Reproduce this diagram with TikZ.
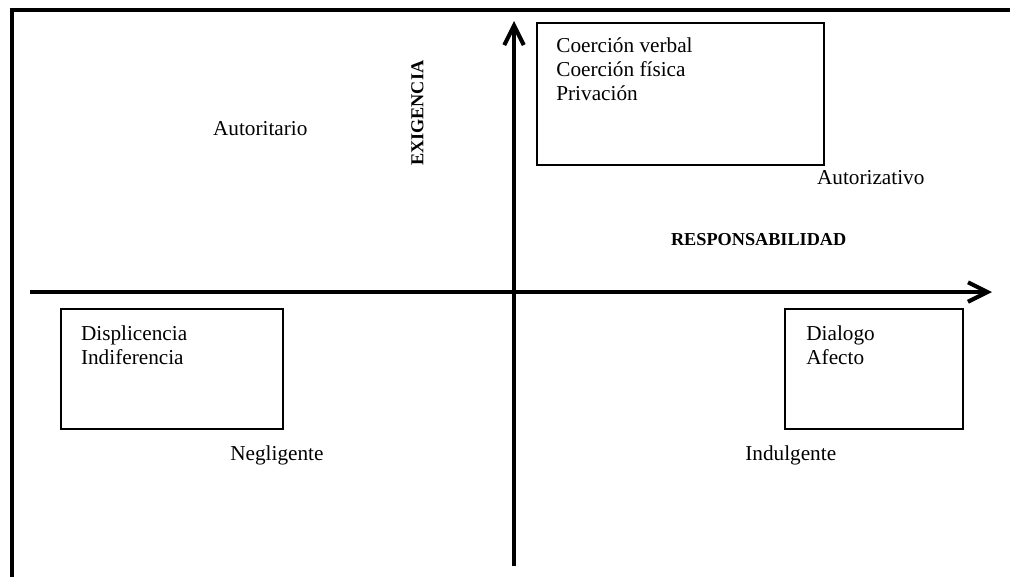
\documentclass[tikz,border=0pt]{standalone}
\usepackage{fontspec}
\setmainfont{Liberation Serif}
\usepackage{tikz}
\usetikzlibrary{arrows.meta}
\tikzstyle{axis} = [line width=2.3pt,-{Straight Barb[length=11pt,width=11pt]}]
\tikzstyle{frame} = [line width=2.8pt]
\tikzstyle{quad} = [draw, line width=1pt, inner sep=0pt, anchor=north west]
\tikzstyle{lbl} = [inner sep=0pt, anchor=base west, align=left, font=\fontsize{12}{13.56}\selectfont]
\tikzstyle{dim} = [inner sep=0pt, font=\fontsize{10.3}{12}\selectfont\bfseries]

\begin{document}
\begin{tikzpicture}[x=0.565pt,y=-0.565pt]
        \useasboundingbox (0,0) rectangle (1010,577);
        % Frame
        \coordinate (fbot) at (12,577);
        \coordinate (fcorner) at (12,10);
        \coordinate (fright) at (1010,10);
        \draw[frame] (fbot) -- (fcorner) -- (fright);
        % Axes
        \coordinate (xstart) at (30,292);
        \coordinate (xend) at (992,292);
        \coordinate (ystart) at (514,566);
        \coordinate (yend) at (514,21);
        \draw[axis] (xstart) -- (xend);
        \draw[axis] (ystart) -- (yend);
        \node[dim, rotate=90] (exig) at (417.5,113.3) {EXIGENCIA};
        \node[dim, anchor=base west] (resp) at (670.7,245.7) {RESPONSABILIDAD};
        % Quadrant boxes (base = last line)
        \node[quad, minimum width=162pt, minimum height=80.4pt] (bAut) at (536,22) {};
        \node[quad, minimum width=125.3pt, minimum height=67.8pt] (bNeg) at (60,308.3) {};
        \node[quad, minimum width=100.6pt, minimum height=67.8pt] (bInd) at (784.3,308.3) {};
        \node[lbl] (tAut) at (556,100.7) {Coerción verbal\\Coerción física\\Privación};
        \node[lbl] (tNeg) at (80.7,364) {Displicencia\\Indiferencia};
        \node[lbl] (tInd) at (806,364) {Dialogo\\Afecto};
        % Styles
        \node[lbl] (autoritario) at (212.7,135) {Autoritario};
        \node[lbl] (autorizativo) at (816.7,184.3) {Autorizativo};
        \node[lbl] (negligente) at (230,460) {Negligente};
        \node[lbl] (indulgente) at (745,460) {Indulgente};
\end{tikzpicture}
\end{document}
